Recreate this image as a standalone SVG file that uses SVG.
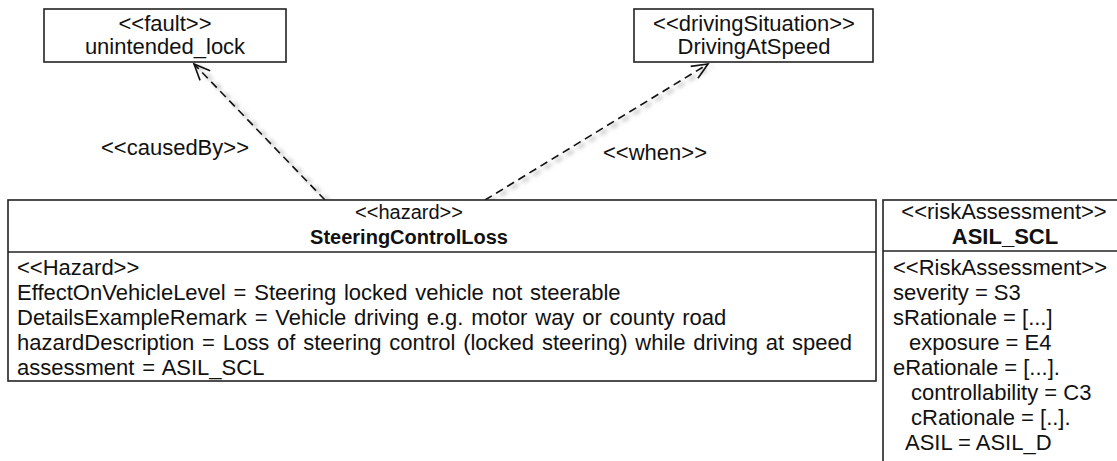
<svg xmlns="http://www.w3.org/2000/svg" width="1117" height="461" viewBox="0 0 1117 461">
<style>
text{font-family:"Liberation Sans",Arial,Helvetica,sans-serif;font-size:22px;fill:#111}
.box{fill:#fff;stroke:#222;stroke-width:1.6}
.div{stroke:#222;stroke-width:1.6}
.c{text-anchor:middle}
.b{font-weight:bold}
.ws{word-spacing:1.7px}
.dep{fill:none;stroke:#111;stroke-width:1.6;stroke-dasharray:8 5}
.sh{fill:none;stroke:#bbb;stroke-width:3;stroke-dasharray:8 5}
</style>
<defs>
<marker id="open" viewBox="0 0 20 20" refX="18" refY="10" markerWidth="20" markerHeight="20" markerUnits="userSpaceOnUse" orient="auto">
<path d="M2,3 L18,10 L2,17" fill="none" stroke="#111" stroke-width="1.6"/>
</marker>
<filter id="blur" x="-20%" y="-20%" width="140%" height="140%"><feGaussianBlur stdDeviation="2"/></filter>
</defs>
<g id="connectors">
<g filter="url(#blur)">
<path class="sh" d="M329,202 L198,66"/>
<path class="sh" d="M489,202 L712,66"/>
</g>
<path id="causedBy" class="dep" d="M325,200 L194,64" marker-end="url(#open)"/>
<path id="when" class="dep" d="M485,200 L708,64" marker-end="url(#open)"/>
<text class="c" x="175" y="155">&lt;&lt;causedBy&gt;&gt;</text>
<text class="c" x="655" y="160">&lt;&lt;when&gt;&gt;</text>
</g>
<g id="fault">
<rect class="box" x="44" y="9" width="242" height="53"/>
<text class="c" x="165" y="31">&lt;&lt;fault&gt;&gt;</text>
<text class="c" x="165" y="54">unintended_lock</text>
</g>
<g id="drivingSituation">
<rect class="box" x="634" y="9" width="239" height="53"/>
<text class="c" x="754" y="31">&lt;&lt;drivingSituation&gt;&gt;</text>
<text class="c" x="754" y="54">DrivingAtSpeed</text>
</g>
<g id="hazard">
<rect class="box" x="8" y="200" width="868" height="181"/>
<line class="div" x1="8" y1="252" x2="876" y2="252"/>
<text class="c" x="409" y="219" style="font-size:20px">&lt;&lt;hazard&gt;&gt;</text>
<text class="c b" x="409" y="244" style="font-size:20px">SteeringControlLoss</text>
<text x="17" y="275">&lt;&lt;Hazard&gt;&gt;</text>
<text class="ws" x="17" y="300">EffectOnVehicleLevel = Steering locked vehicle not steerable</text>
<text class="ws" x="17" y="325">DetailsExampleRemark = Vehicle driving e.g. motor way or county road</text>
<text class="ws" x="17" y="350">hazardDescription = Loss of steering control (locked steering) while driving at speed</text>
<text class="ws" x="17" y="375">assessment = ASIL_SCL</text>
</g>
<g id="riskAssessment">
<rect class="box" x="883" y="200" width="240" height="275"/>
<line class="div" x1="883" y1="251" x2="1117" y2="251"/>
<text class="c" x="1004" y="219">&lt;&lt;riskAssessment&gt;&gt;</text>
<text class="c b" x="1005" y="244">ASIL_SCL</text>
<text x="893" y="275">&lt;&lt;RiskAssessment&gt;&gt;</text>
<text x="893" y="300">severity = S3</text>
<text x="893" y="325">sRationale = [...]</text>
<text x="909" y="350">exposure = E4</text>
<text x="893" y="375">eRationale = [...].</text>
<text x="911" y="400">controllability = C3</text>
<text x="911" y="425">cRationale = [..].</text>
<text x="905" y="450">ASIL = ASIL_D</text>
</g>
</svg>
